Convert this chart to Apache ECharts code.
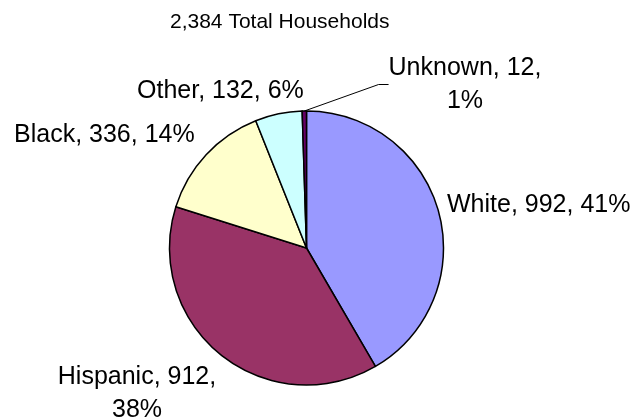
<!DOCTYPE html>
<html>
<head>
<meta charset="utf-8">
<script src="https://cdn.jsdelivr.net/npm/echarts@6/dist/echarts.min.js"></script>
<style>
  html, body { margin: 0; padding: 0; background: #fff; }
  #chart { width: 634px; height: 419px; }
</style>
</head>
<body>
<div id="chart"></div>
<script>
// values
let subtitle = '2,384 Total Households';
let groups = ['White', 'Hispanic', 'Black', 'Other', 'Unknown'];
let households = [992, 912, 336, 132, 12];
let percents = [41, 38, 14, 6, 1];   // as printed on the chart (Excel rounding)
let colors = ['#9999FF', '#993366', '#FFFFCC', '#CCFFFF', '#660066'];

// where each label sits, label box anchor (layout only)
let labelSpots = [
    {x: 447, y: 205.5, align: 'left',   wrap: false},
    {x: 137, y: 394,   align: 'center', wrap: true},
    {x: 14,  y: 135.5, align: 'left',   wrap: false},
    {x: 137, y: 91,    align: 'left',   wrap: false},
    {x: 465, y: 84.5,  align: 'center', wrap: true}
];

let chart = echarts.init(document.getElementById('chart'), null, {renderer: 'canvas'});

let pieData = groups.map(function(name, i){
    let item = {
        name: name,
        value: households[i],
        itemStyle: {color: colors[i]}
    };
    if (name === 'Unknown') {
        item.labelLine = {show: true, length: 20, length2: 10};
    }
    return item;
});

let option = {
    animation: false,
    backgroundColor: '#ffffff',
    title: {
        text: subtitle,
        left: 165,
        top: 7,
        textStyle: {
            fontFamily: 'Liberation Sans, Arial, sans-serif',
            fontSize: 21,
            fontWeight: 'normal',
            color: '#000'
        }
    },
    series: [{
        type: 'pie',
        center: [306.5, 248],
        radius: [0, 137],
        startAngle: 90,
        clockwise: true,
        avoidLabelOverlap: false,
        data: pieData,
        itemStyle: {
            borderColor: '#000',
            borderWidth: 1.5
        },
        emphasis: {disabled: true},
        label: {
            show: true,
            position: 'outside',
            fontFamily: 'Liberation Sans, Arial, sans-serif',
            fontSize: 25,
            lineHeight: 33,
            color: '#000',
            formatter: function(p){
                let sep = labelSpots[p.dataIndex].wrap ? ',\n' : ', ';
                return p.name + ', ' + p.value + sep + percents[p.dataIndex] + '%';
            }
        },
        labelLine: {
            show: false,
            lineStyle: {color: '#000', width: 1}
        },
        labelLayout: function(params){
            let spot = labelSpots[params.dataIndex];
            return {
                x: spot.x,
                y: spot.y,
                align: spot.align,
                verticalAlign: 'middle'
            };
        }
    }]
};

chart.setOption(option);
</script>
</body>
</html>
